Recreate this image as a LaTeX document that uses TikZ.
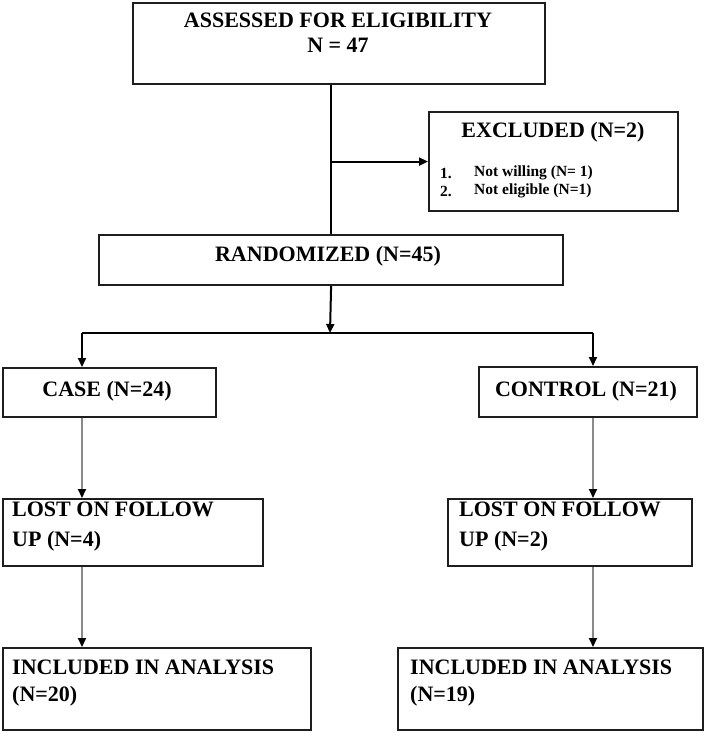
\documentclass[tikz,border=0pt]{standalone}
\usepackage{fontspec}
\setmainfont{Liberation Serif}
\usetikzlibrary{arrows.meta}
\definecolor{boxc}{HTML}{1E1E1E}
\definecolor{grayc}{HTML}{8A8A8A}
\begin{document}
\begin{tikzpicture}[x=1pt,y=-1pt,
  box/.style={draw=boxc, line width=2.2pt, fill=white, inner sep=0pt, anchor=north west},
  big/.style={font=\fontsize{22}{25}\selectfont\bfseries, inner sep=0pt},
  twoline/.style={big, align=left, anchor=west, font=\fontsize{22}{#1}\selectfont\bfseries},
  small/.style={font=\fontsize{15.5}{18}\selectfont\bfseries, inner sep=0pt},
  conn/.style={line width=2pt, draw=black},
  gconn/.style={line width=1.8pt, draw=grayc},
  arr/.style={-{Triangle[length=9pt,width=8pt,color=black]}}]
\useasboundingbox (0,0) rectangle (713,732);
\fill[white] (0,0) rectangle (713,732);
% boxes
\node[box, minimum width=412pt, minimum height=81pt] (B1) at (132,2) {};
\node[big, align=center] (B1t) at (338,32.5) {ASSESSED FOR ELIGIBILITY\\N = 47};
\node[box, minimum width=249pt, minimum height=99pt] (EXC) at (428,111) {};
\node[big] (EXCt) at (553,132) {EXCLUDED (N=2)};
\node[small, anchor=west] (EXC1n) at (440,173) {1.};
\node[small, anchor=west] (EXC1) at (474,173) {Not willing (N= 1)};
\node[small, anchor=west] (EXC2n) at (440,191) {2.};
\node[small, anchor=west] (EXC2) at (474,191) {Not eligible (N=1)};
\node[box, minimum width=464pt, minimum height=50pt] (R) at (98,234) {};
\node[big] (Rt) at (328,256) {RANDOMIZED (N=45)};
\node[box, minimum width=213pt, minimum height=49pt] (CA) at (2,367) {};
\node[big] (CAt) at (107,391) {CASE (N=24)};
\node[box, minimum width=218pt, minimum height=50pt] (CO) at (478,366) {};
\node[big] (COt) at (586,391) {CONTROL (N=21)};
\node[box, minimum width=260pt, minimum height=67pt] (LA) at (2,498) {};
\node[twoline=30] (LAt) at (12,527) {LOST ON FOLLOW\\UP (N=4)};
\node[box, minimum width=244pt, minimum height=67pt] (LB) at (447,498) {};
\node[twoline=30] (LBt) at (459,527) {LOST ON FOLLOW\\UP (N=2)};
\node[box, minimum width=308pt, minimum height=82pt] (IA) at (2,647) {};
\node[twoline=27] (IAt) at (12,683.5) {INCLUDED IN ANALYSIS\\(N=20)};
\node[box, minimum width=305pt, minimum height=82pt] (IB) at (397,647) {};
\node[twoline=27] (IBt) at (410,683.5) {INCLUDED IN ANALYSIS\\(N=19)};
% connectors
\coordinate (split) at (330,333);
\coordinate (sl) at (82,333);
\coordinate (sr) at (593,333);
\draw[conn] (B1.south -| R.north) -- (R.north);
\draw[conn, arr] (EXC.west -| R.north) -- (EXC.west);
\draw[conn, arr] (R.south) -- (split);
\draw[conn] (sl) -- (sr);
\draw[conn, arr] (sl) -- (sl |- CA.north);
\draw[conn, arr] (sr) -- (sr |- CO.north);
\draw[gconn, arr] (sl |- CA.south) -- (sl |- LA.north);
\draw[gconn, arr] (sr |- CO.south) -- (sr |- LB.north);
\draw[gconn, arr] (sl |- LA.south) -- (sl |- IA.north);
\draw[gconn, arr] (sr |- LB.south) -- (sr |- IB.north);
\end{tikzpicture}
\end{document}
